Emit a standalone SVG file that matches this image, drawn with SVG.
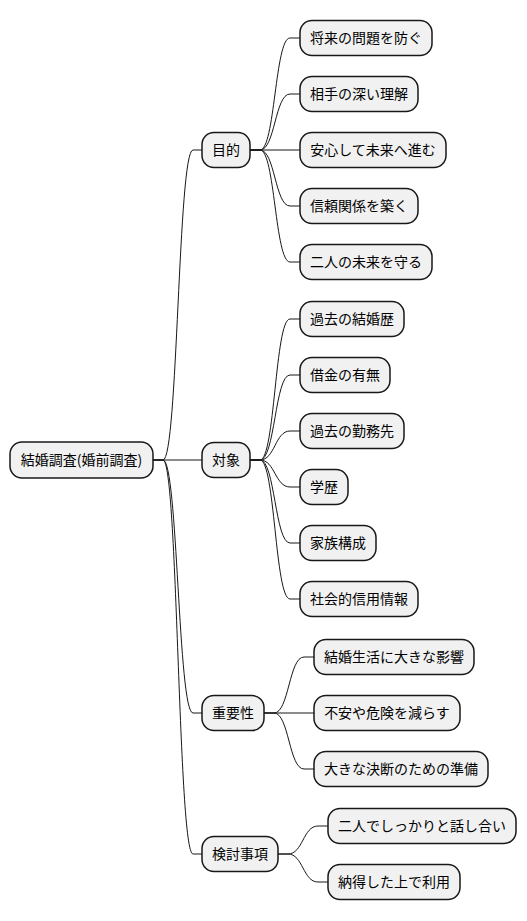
<svg xmlns="http://www.w3.org/2000/svg" width="527" height="921" viewBox="0 0 527 921">
<style>
.n rect{fill:#F1F1F1;stroke:#181818;stroke-width:1.5}
.n text{font-family:"Noto Sans CJK JP","Noto Sans",sans-serif;font-size:14px;fill:#000;text-anchor:middle}
#edges path{fill:none;stroke:#181818;stroke-width:1}
</style>
<rect width="527" height="921" fill="#FFFFFF"/>
<g id="edges">
<path d="M153,460 L163,460 C178,460 178,150 193,150 L202,150"/>
<path d="M153,460 L202,460"/>
<path d="M153,460 L163,460 C178,460 178,713 193,713 L202,713"/>
<path d="M153,460 L163,460 C178,460 178,854 193,854 L202,854"/>
<path d="M250,150 L260,150 C275,150 275,38 290,38 L300,38"/>
<path d="M250,150 L260,150 C275,150 275,94 290,94 L300,94"/>
<path d="M250,150 L300,150"/>
<path d="M250,150 L260,150 C275,150 275,206 290,206 L300,206"/>
<path d="M250,150 L260,150 C275,150 275,262 290,262 L300,262"/>
<path d="M250,460 L260,460 C275,460 275,319 290,319 L300,319"/>
<path d="M250,460 L260,460 C275,460 275,375 290,375 L300,375"/>
<path d="M250,460 L260,460 C275,460 275,431 290,431 L300,431"/>
<path d="M250,460 L260,460 C275,460 275,487 290,487 L300,487"/>
<path d="M250,460 L260,460 C275,460 275,543 290,543 L300,543"/>
<path d="M250,460 L260,460 C275,460 275,599 290,599 L300,599"/>
<path d="M264,713 L274,713 C289,713 289,657 304,657 L314,657"/>
<path d="M264,713 L314,713"/>
<path d="M264,713 L274,713 C289,713 289,769 304,769 L314,769"/>
<path d="M278,854 L288,854 C303,854 303,826 318,826 L328,826"/>
<path d="M278,854 L288,854 C303,854 303,882 318,882 L328,882"/>
</g>
<g id="root" class="n"><rect x="10" y="442" width="143" height="36" rx="12"/><text x="81.5" y="465">結婚調査(婚前調査)</text></g>
<g id="mokuteki" class="n"><rect x="202" y="132.5" width="48" height="35" rx="12"/><text x="226" y="155">目的</text></g>
<g id="taisho" class="n"><rect x="202" y="442.5" width="48" height="35" rx="12"/><text x="226" y="465">対象</text></g>
<g id="juyosei" class="n"><rect x="202" y="695.5" width="62" height="35" rx="12"/><text x="233" y="718">重要性</text></g>
<g id="kento" class="n"><rect x="202" y="836.5" width="76" height="35" rx="12"/><text x="240" y="859">検討事項</text></g>
<g id="m1" class="n"><rect x="300" y="20.5" width="132" height="35" rx="12"/><text x="366" y="43">将来の問題を防ぐ</text></g>
<g id="m2" class="n"><rect x="300" y="76.5" width="118" height="35" rx="12"/><text x="359" y="99">相手の深い理解</text></g>
<g id="m3" class="n"><rect x="300" y="132.5" width="146" height="35" rx="12"/><text x="373" y="155">安心して未来へ進む</text></g>
<g id="m4" class="n"><rect x="300" y="188.5" width="118" height="35" rx="12"/><text x="359" y="211">信頼関係を築く</text></g>
<g id="m5" class="n"><rect x="300" y="244.5" width="132" height="35" rx="12"/><text x="366" y="267">二人の未来を守る</text></g>
<g id="t1" class="n"><rect x="300" y="301.5" width="104" height="35" rx="12"/><text x="352" y="324">過去の結婚歴</text></g>
<g id="t2" class="n"><rect x="300" y="357.5" width="90" height="35" rx="12"/><text x="345" y="380">借金の有無</text></g>
<g id="t3" class="n"><rect x="300" y="413.5" width="104" height="35" rx="12"/><text x="352" y="436">過去の勤務先</text></g>
<g id="t4" class="n"><rect x="300" y="469.5" width="48" height="35" rx="12"/><text x="324" y="492">学歴</text></g>
<g id="t5" class="n"><rect x="300" y="525.5" width="76" height="35" rx="12"/><text x="338" y="548">家族構成</text></g>
<g id="t6" class="n"><rect x="300" y="581.5" width="118" height="35" rx="12"/><text x="359" y="604">社会的信用情報</text></g>
<g id="j1" class="n"><rect x="314" y="639.5" width="160" height="35" rx="12"/><text x="394" y="662">結婚生活に大きな影響</text></g>
<g id="j2" class="n"><rect x="314" y="695.5" width="146" height="35" rx="12"/><text x="387" y="718">不安や危険を減らす</text></g>
<g id="j3" class="n"><rect x="314" y="751.5" width="174" height="35" rx="12"/><text x="401" y="774">大きな決断のための準備</text></g>
<g id="k1" class="n"><rect x="328" y="808.5" width="188" height="35" rx="12"/><text x="422" y="831">二人でしっかりと話し合い</text></g>
<g id="k2" class="n"><rect x="328" y="864.5" width="132" height="35" rx="12"/><text x="394" y="887">納得した上で利用</text></g>
</svg>
